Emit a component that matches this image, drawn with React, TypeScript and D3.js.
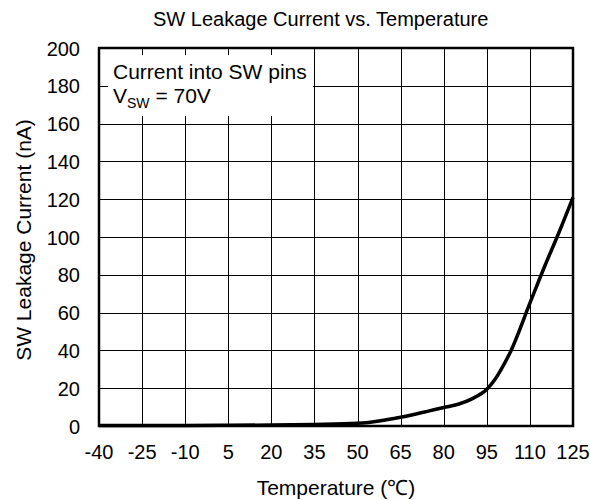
import React from "react";
import * as d3 from "d3";

const temps = [-40, -25, -10, 5, 20, 35, 50, 60, 65, 70, 75, 80, 85, 90, 95, 98, 100, 103, 110, 115, 120, 125];
const leakage = [0.3, 0.3, 0.3, 0.4, 0.5, 0.8, 1.4, 3.3, 4.6, 6.2, 8, 9.8, 11.5, 14.5, 19.4, 25, 30, 38.5, 65, 84, 102, 121];
const xTicks = [-40, -25, -10, 5, 20, 35, 50, 65, 80, 95, 110, 125];
const yTicks = [0, 20, 40, 60, 80, 100, 120, 140, 160, 180, 200];

const W = 590, H = 500;
const L = 99, R = 573, T = 48, B = 426;
const FONT = "Liberation Sans, Arial, sans-serif";

export default function App() {
  const x = d3.scaleLinear().domain([-40, 125]).range([L, R]);
  const y = d3.scaleLinear().domain([0, 200]).range([B, T]);
  const line = d3.line<number>()
    .x((_, i) => x(temps[i]))
    .y((d) => y(d))
    .curve(d3.curveMonotoneX);
  const path = line(leakage) || "";
  return (
    <svg width={W} height={H} style={{ position: "absolute", left: 0, top: 0, background: "#fff" }} fontFamily={FONT}>
      <text x={153} y={26} textAnchor="start" fontSize={20}>SW Leakage Current vs. Temperature</text>
      {yTicks.map((t) => (
        <line key={"gy" + t} x1={L} x2={R} y1={Math.round(y(t)) + 0.5} y2={Math.round(y(t)) + 0.5} stroke="#000" strokeWidth={1} />
      ))}
      {xTicks.map((t) => (
        <line key={"gx" + t} x1={Math.round(x(t)) + 0.5} x2={Math.round(x(t)) + 0.5} y1={T} y2={B} stroke="#000" strokeWidth={1} />
      ))}
      <rect x={108} y={55} width={205} height={61} fill="#fff" />
      <text x={113} y={79} fontSize={21}>Current into SW pins</text>
      <text x={113} y={103} fontSize={21}>V<tspan fontSize={14} dy={5}>SW</tspan><tspan dy={-5}> = 70V</tspan></text>
      <path d={path} fill="none" stroke="#000" strokeWidth={3.5} />
      <rect x={L} y={T} width={R - L} height={B - T} fill="none" stroke="#000" strokeWidth={2.5} />
      {yTicks.map((t) => (
        <text key={"ty" + t} x={80} y={y(t) + 7.5} textAnchor="end" fontSize={20}>{t}</text>
      ))}
      {xTicks.map((t) => (
        <text key={"tx" + t} x={x(t)} y={459} textAnchor="middle" fontSize={20}>{t}</text>
      ))}
      <text x={336} y={495} textAnchor="middle" fontSize={21}>Temperature (℃)</text>
      <text transform={`translate(31,240) rotate(-90)`} textAnchor="middle" fontSize={21}>SW Leakage Current (nA)</text>
    </svg>
  );
}
